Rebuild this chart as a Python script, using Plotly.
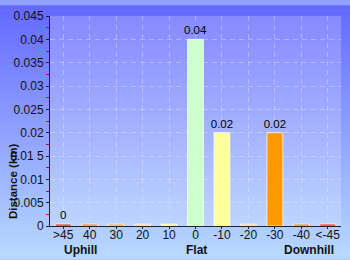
import plotly.graph_objects as go

categories = [">45", "40", "30", "20", "10", "0", "-10", "-20", "-30", "-40", "<-45"]
distance_km = [0, 0, 0, 0, 0, 0.04, 0.02, 0, 0.02, 0, 0]
value_labels = ["0", "", "", "", "", "0.04", "0.02", "", "0.02", "", ""]
bar_colors = ["#ff0000", "#ff6a00", "#ff9900", "#ffcc99", "#ffff99", "#ccffcc",
              "#ffff99", "#ffcc99", "#ff9900", "#ff6a00", "#ff0000"]
y_ticks = [0, 0.005, 0.01, 0.015, 0.02, 0.025, 0.03, 0.035, 0.04, 0.045]
y_tick_text = ["0", "0.005", "0.01", "0.01 5", "0.02", "0.025", "0.03", "0.035", "0.04", "0.045"]

W, H = 350, 260
ML, MR, MT, MB = 50, 9, 11, 34
PW, PH = W - ML - MR, H - MT - MB

min_visible = 0.0004
plot_vals = [max(v, min_visible) for v in distance_km]

fig = go.Figure()
fig.add_trace(go.Bar(
    x=categories, y=plot_vals, width=0.6,
    marker=dict(color=bar_colors, line=dict(color="rgba(255,255,255,0.7)", width=1)),
    text=value_labels, textposition="outside", cliponaxis=False, constraintext="none",
    textfont=dict(family="Liberation Sans, Arial", size=11.5, color="#000"),
    outsidetextfont=dict(family="Liberation Sans, Arial", size=11.5, color="#000"),
    hoverinfo="skip",
))

shapes = []
n = 52
x0p, x1p = -ML / PW, 1 + MR / PW
def lerp(a, b, t):
    return a + (b - a) * t
c_top = (100, 104, 255)
c_bot = (185, 218, 255)
for i in range(n):
    t0 = i / n
    t1 = (i + 1) / n
    yp_top = 1 - (t0 * H - MT) / PH
    yp_bot = 1 - (t1 * H + 0.6 - MT) / PH
    tm = (t0 + t1) / 2
    col = "rgb(%d,%d,%d)" % tuple(round(lerp(a, b, tm)) for a, b in zip(c_top, c_bot))
    shapes.append(dict(type="rect", xref="paper", yref="paper", x0=x0p, x1=x1p,
                       y0=yp_bot, y1=yp_top, fillcolor=col, line=dict(width=0), layer="below"))
shapes.append(dict(type="rect", xref="paper", yref="paper", x0=0, x1=1, y0=0, y1=1,
                   fillcolor="rgba(255,255,255,0.2)", line=dict(width=0), layer="below"))

annots = []
for txt, xpx in [("Uphill", 80), ("Flat", 196), ("Downhill", 309)]:
    annots.append(dict(text="<b>%s</b>" % txt, xref="paper", yref="paper",
                       x=(xpx - ML) / PW, y=1 - (251 - MT) / PH, showarrow=False,
                       xanchor="center", yanchor="middle",
                       font=dict(family="Liberation Sans, Arial", size=12, color="#111")))
annots.append(dict(text="<b>Distance (km)</b>", xref="paper", yref="paper",
                   x=(13 - ML) / PW, y=1 - (180 - MT) / PH, showarrow=False, textangle=-90,
                   xanchor="center", yanchor="middle",
                   font=dict(family="Liberation Sans, Arial", size=11.5, color="#111")))

grid_col = "rgba(255,255,255,0.3)"
fig.update_layout(
    width=W, height=H, margin=dict(l=ML, r=MR, t=MT, b=MB, pad=0),
    paper_bgcolor="#8fa0ff", plot_bgcolor="rgba(0,0,0,0)",
    showlegend=False, shapes=shapes, annotations=annots,
    font=dict(family="Liberation Sans, Arial", size=12, color="#111"),
    xaxis=dict(type="category", showline=True, linecolor="#222", linewidth=1,
               showgrid=True, gridcolor=grid_col, griddash="5px,4px", gridwidth=1,
               ticks="outside", ticklen=2, tickcolor="#222", ticklabelstandoff=-4,
               tickfont=dict(size=12, color="#111"), fixedrange=True, zeroline=False),
    yaxis=dict(range=[0, 0.045], tickvals=y_ticks, ticktext=y_tick_text,
               showline=True, linecolor="#222", linewidth=1,
               showgrid=True, gridcolor=grid_col, griddash="5px,4px", gridwidth=1,
               ticks="outside", ticklen=3, tickcolor="#222",
               minor=dict(tickvals=[0.0025 + 0.005 * k for k in range(9)], ticks="outside",
                          ticklen=3, tickcolor="#e00000", showgrid=False),
               tickfont=dict(size=12, color="#111"), zeroline=False, fixedrange=True),
)

fig.write_html("out.html", config={"displayModeBar": False})
